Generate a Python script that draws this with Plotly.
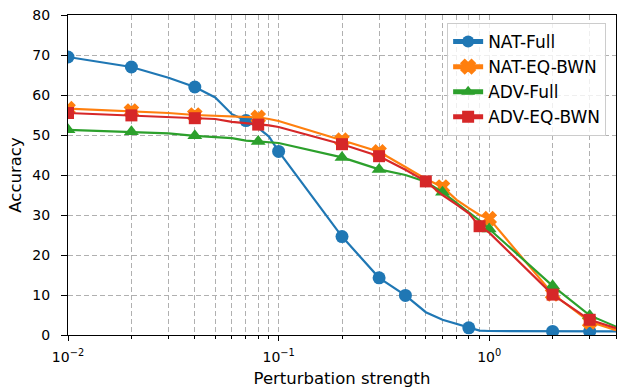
import plotly.graph_objects as go

# ---- data ----
x_vals = [0.01, 0.02, 0.03, 0.04, 0.05, 0.06, 0.07, 0.08, 0.09, 0.1,
          0.2, 0.3, 0.4, 0.5, 0.6, 0.7, 0.8, 0.9, 1.0, 2.0, 3.0, 4.0]

nat_full = [69.5, 67.0, 64.3, 62.0, 59.4, 55.2, 53.6, 51.8, 49.6, 45.9,
            24.6, 14.3, 9.9, 5.7, 3.8, 2.7, 1.8, 1.1, 1.0, 0.9, 0.9, 0.9]
nat_eq_bwn = [56.6, 56.0, 55.5, 55.0, 54.8, 54.6, 54.5, 54.4, 54.0, 53.5,
              48.7, 45.8, 42.0, 39.0, 37.0, 33.8, 31.7, 30.0, 29.1, 10.3, 3.3, 1.2]
adv_full = [51.3, 50.8, 50.4, 49.8, 49.4, 49.2, 48.6, 48.4, 48.2, 48.0,
            44.4, 41.4, 40.0, 38.3, 35.7, 33.0, 30.8, 28.6, 26.5, 12.3, 4.9, 2.1]
adv_eq_bwn = [55.5, 54.9, 54.6, 54.2, 54.0, 53.3, 53.0, 52.6, 52.4, 52.0,
              47.7, 44.7, 41.3, 38.4, 35.0, 32.6, 30.4, 27.2, 25.6, 10.1, 3.8, 1.7]

# x positions where a marker is drawn
nat_full_marks = [0.01, 0.02, 0.04, 0.07, 0.1, 0.2, 0.3, 0.4, 0.8, 2.0, 3.0]
nat_eq_bwn_marks = [0.01, 0.02, 0.04, 0.08, 0.2, 0.3, 0.6, 1.0, 2.0, 3.0]
adv_full_marks = [0.01, 0.02, 0.04, 0.08, 0.2, 0.3, 0.6, 1.0, 2.0, 3.0]
adv_eq_bwn_marks = [0.01, 0.02, 0.04, 0.08, 0.2, 0.3, 0.5, 0.9, 2.0, 3.0]

series_names = ["NAT-Full", "NAT-EQ-BWN", "ADV-Full", "ADV-EQ-BWN"]

x_major_ticks = [0.01, 0.1, 1.0]
x_major_text = ["10<sup>\u22122</sup>", "10<sup>\u22121</sup>", "10<sup>0</sup>"]
x_minor_ticks = [0.02, 0.03, 0.04, 0.05, 0.06, 0.07, 0.08, 0.09,
                 0.2, 0.3, 0.4, 0.5, 0.6, 0.7, 0.8, 0.9, 2.0, 3.0, 4.0]
y_ticks = [0, 10, 20, 30, 40, 50, 60, 70, 80]

# ---- styling ----
colors = ["#1f77b4", "#ff7f0e", "#2ca02c", "#d62728"]
symbols = ["circle", "x", "triangle-up", "square"]
msizes = [13, 12, 13, 12]
mline = [0, 1.5, 0, 0]
FONT = "DejaVu Sans, Liberation Sans, sans-serif"
GRID = "#b0b0b0"

fig = go.Figure()
all_y = [nat_full, nat_eq_bwn, adv_full, adv_eq_bwn]
all_marks = [nat_full_marks, nat_eq_bwn_marks, adv_full_marks, adv_eq_bwn_marks]
for name, ys, marks, c, sym, ms, mlw in zip(series_names, all_y, all_marks, colors,
                                             symbols, msizes, mline):
    sizes = [ms if any(abs(x - m) < 1e-9 for m in marks) else 0 for x in x_vals]
    fig.add_trace(go.Scatter(
        x=x_vals, y=ys, name=name, mode="lines+markers",
        line=dict(color=c, width=2.2),
        marker=dict(symbol=sym, size=sizes, color=c, opacity=1,
                    line=dict(width=mlw, color=c)),
    ))

fig.update_layout(
    width=624, height=389,
    margin=dict(l=68, r=8, t=15, b=54),
    plot_bgcolor="white", paper_bgcolor="white",
    font=dict(family=FONT, size=14, color="black"),
    showlegend=True,
    legend=dict(
        x=0.982, y=0.975, xanchor="right", yanchor="top",
        bgcolor="rgba(255,255,255,0.8)", bordercolor="#cccccc", borderwidth=1,
        font=dict(size=17), itemsizing="constant", tracegroupgap=0,
    ),
    xaxis=dict(
        type="log", range=[-2, 0.602], automargin=False,
        tickmode="array", tickvals=x_major_ticks, ticktext=x_major_text,
        ticks="outside", ticklen=5, tickcolor="black", ticklabelstandoff=4,
        showline=True, linecolor="black", linewidth=1, mirror=True,
        showgrid=True, gridcolor=GRID, griddash="5px,3px", gridwidth=1,
        minor=dict(tickmode="array", tickvals=x_minor_ticks, ticks="outside",
                   ticklen=3, tickcolor="black",
                   showgrid=True, gridcolor=GRID, griddash="5px,3px", gridwidth=1),
        zeroline=False,
        title=dict(text="Perturbation strength", font=dict(size=16.5), standoff=8),
        tickfont=dict(size=14),
    ),
    yaxis=dict(
        range=[0, 80], tickmode="array", tickvals=y_ticks, automargin=False,
        ticks="outside", ticklen=6, tickcolor="black", ticklabelstandoff=8,
        showline=True, linecolor="black", linewidth=1, mirror=True,
        showgrid=True, gridcolor=GRID, griddash="5px,3px", gridwidth=1,
        zeroline=False,
        title=dict(text="Accuracy", font=dict(size=16.5), standoff=6),
        tickfont=dict(size=14),
    ),
)

fig.write_html("out.html", config={"displayModeBar": False},
               post_script="document.body.style.margin='0';document.body.style.overflow='hidden';")
